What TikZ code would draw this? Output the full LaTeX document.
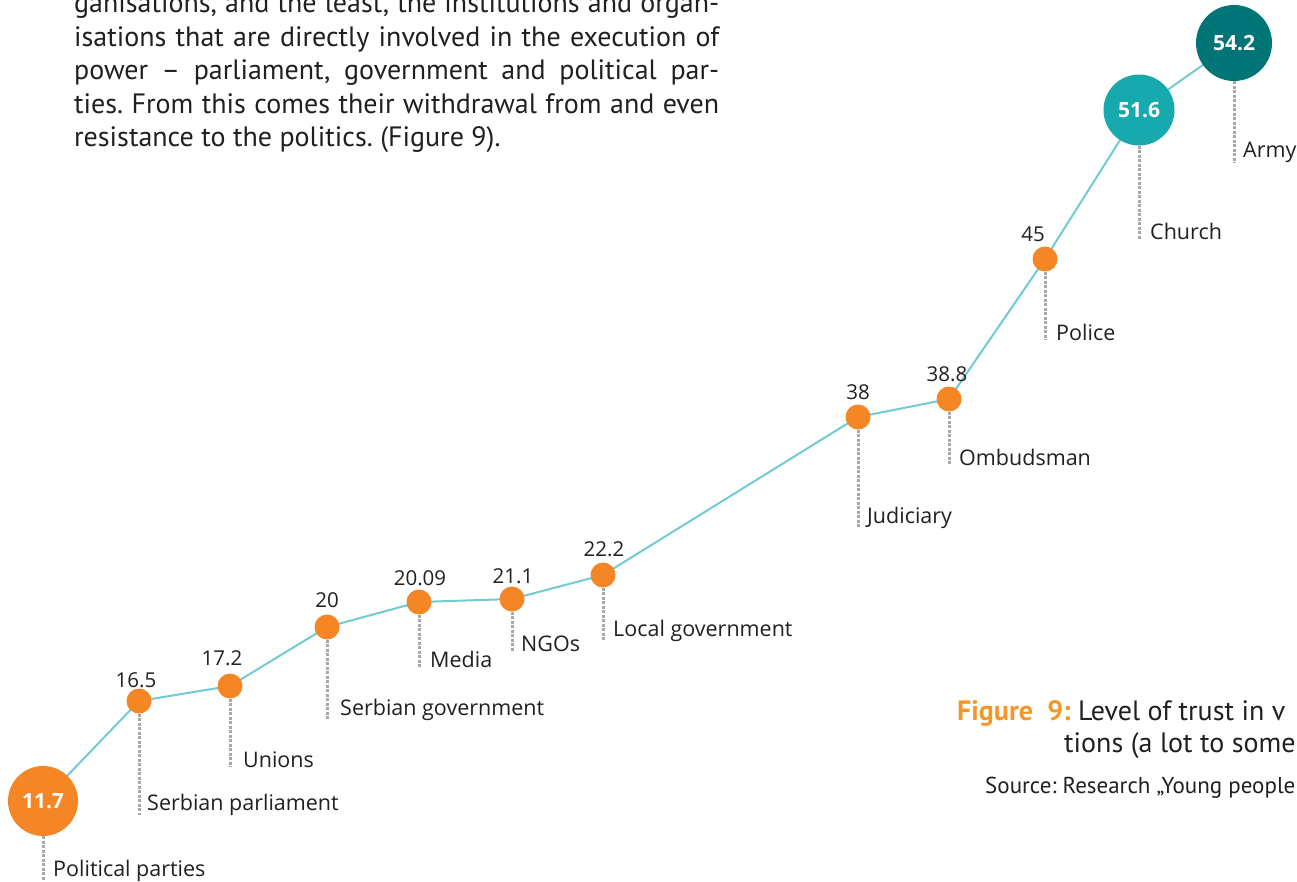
\documentclass[tikz,border=0pt]{standalone}
\usepackage{fontspec}
\setmainfont{Open Sans}
\newfontfamily\parafont{PT Sans}
\definecolor{trustorange}{RGB}{245,134,38}
\definecolor{captionorange}{RGB}{247,150,40}
\definecolor{churchteal}{RGB}{24,169,174}
\definecolor{armyteal}{RGB}{0,117,120}
\definecolor{trendline}{RGB}{112,203,211}
\definecolor{leadgray}{RGB}{168,168,168}
\definecolor{inkgray}{RGB}{35,31,32}
\tikzset{
  trend/.style={draw=trendline, line width=2pt},
  dot/.style={circle, fill=trustorange, inner sep=0pt, minimum size=25pt},
  bigdot/.style={circle, inner sep=0pt, text=white,
    font=\bfseries\fontsize{21}{21}\selectfont},
  leader/.style={draw=leadgray, line width=3pt, dash pattern=on 3pt off 1.5pt},
  value/.style={anchor=base, inner sep=0pt, text=inkgray,
    font=\fontsize{20.5}{20.5}\selectfont},
  instname/.style={anchor=base west, inner sep=0pt, text=inkgray,
    font=\fontsize{21.5}{21.5}\selectfont},
  paraline/.style={anchor=base west, inner sep=0pt, text=inkgray,
    font=\parafont\fontsize{28}{28}\selectfont},
}
\frenchspacing
\begin{document}
\begin{tikzpicture}[x=1pt, y=-1pt]
  \useasboundingbox (0,0) rectangle (1297,881);
  \clip (0,0) rectangle (1297,881);
  % running text above the chart
  \node[paraline] (para1) at (74,12.5) {\makebox[645pt][s]{ganisations, and the least, the institutions and organ-}};
  \node[paraline] (para2) at (74,46) {\makebox[645pt][s]{isations that are directly involved in the execution of}};
  \node[paraline] (para3) at (74,79.5) {\makebox[645pt][s]{power – parliament, government and political par-}};
  \node[paraline] (para4) at (74,113) {\makebox[645pt][s]{ties. From this comes their withdrawal from and even}};
  \node[paraline] (para5) at (74,146.5) {resistance to the politics. (Figure 9).};
  % data points
  \coordinate (pp) at (43,801);
  \coordinate (sp) at (139,701);
  \coordinate (un) at (230,686);
  \coordinate (sg) at (327,627);
  \coordinate (me) at (419,602);
  \coordinate (ng) at (512,599);
  \coordinate (lg) at (603,575);
  \coordinate (ju) at (858,417);
  \coordinate (om) at (949,399);
  \coordinate (po) at (1045,259);
  \coordinate (ch) at (1139,110);
  \coordinate (ar) at (1234,43);
  \draw[trend] (pp) -- (sp) -- (un) -- (sg) -- (me) -- (ng) -- (lg)
    -- (ju) -- (om) -- (po) -- (ch) -- (ar);
  \node[bigdot, fill=trustorange, minimum size=70pt] (ppdot) at (pp) {11.7};
  \node[dot] (spdot) at (sp) {};
  \node[dot] (undot) at (un) {};
  \node[dot] (sgdot) at (sg) {};
  \node[dot] (medot) at (me) {};
  \node[dot] (ngdot) at (ng) {};
  \node[dot] (lgdot) at (lg) {};
  \node[dot] (judot) at (ju) {};
  \node[dot] (omdot) at (om) {};
  \node[dot] (podot) at (po) {};
  \node[bigdot, fill=churchteal, minimum size=71pt] (chdot) at (ch) {51.6};
  \node[bigdot, fill=armyteal, minimum size=76pt] (ardot) at (ar) {54.2};
  % values
  \node[value] (spval) at (136,687) {16.5};
  \node[value] (unval) at (222,665) {17.2};
  \node[value] (sgval) at (327,607) {20};
  \node[value] (meval) at (420,585) {20.09};
  \node[value] (ngval) at (513,583) {21.1};
  \node[value] (lgval) at (604,556) {22.2};
  \node[value] (juval) at (858,399) {38};
  \node[value] (omval) at (947,381) {38.8};
  \node[value] (poval) at (1033,241) {45};
  % institution names
  \node[instname] (pplab) at (53,876) {Political parties};
  \node[instname] (splab) at (147,810) {Serbian parliament};
  \node[instname] (unlab) at (243,767) {Unions};
  \node[instname] (sglab) at (340,715) {Serbian government};
  \node[instname] (melab) at (430,667) {Media};
  \node[instname] (nglab) at (521,651) {NGOs};
  \node[instname] (lglab) at (613,636) {Local government};
  \node[instname] (julab) at (867,523) {Judiciary};
  \node[instname] (omlab) at (959,465) {Ombudsman};
  \node[instname] (polab) at (1056,340) {Police};
  \node[instname] (chlab) at (1150,239) {Church};
  \node[instname] (arlab) at (1243,157) {Army};
  % leaders
  \coordinate (ppend) at (43,881);
  \draw[leader] (ppdot.south) -- (ppend);
  \draw[leader] (spdot.south) -- (sp |- splab.south);
  \draw[leader] (undot.south) -- (un |- unlab.south);
  \draw[leader] (sgdot.south) -- (sg |- sglab.south);
  \draw[leader] (medot.south) -- (me |- melab.south);
  \draw[leader] (ngdot.south) -- (ng |- nglab.south);
  \draw[leader] (lgdot.south) -- (lg |- lglab.south);
  \draw[leader] (judot.south) -- (ju |- julab.south);
  \draw[leader] (omdot.south) -- (om |- omlab.south);
  \draw[leader] (podot.south) -- (po |- polab.south);
  \draw[leader] (chdot.south) -- (ch |- chlab.south);
  \draw[leader] (ardot.south) -- (ar |- arlab.south);
  % caption
  \node[paraline, font=\parafont\fontsize{28}{28}\selectfont] (cap1) at (957,720)
    {\textbf{\color{captionorange}Figure\ \ 9:} Level of trust in v};
  \node[paraline, font=\parafont\fontsize{28}{28}\selectfont] (cap2) at (1064,752) {tions (a lot to some};
  \node[paraline, font=\parafont\fontsize{23}{23}\selectfont] (cap3) at (985,793) {Source: Research „Young people};
\end{tikzpicture}
\end{document}
